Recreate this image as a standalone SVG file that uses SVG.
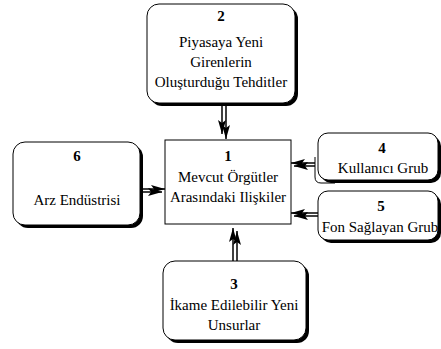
<svg xmlns="http://www.w3.org/2000/svg" width="441" height="349" viewBox="0 0 441 349">
<style>
.box{fill:#fff;stroke:#000;stroke-width:1}
.sh{fill:#000;stroke:none}
text{font-family:"Liberation Serif","DejaVu Serif",serif;font-size:15px;fill:#000;text-anchor:middle}
.n{font-weight:bold}
.c{stroke:#000;stroke-width:1.5;fill:none;marker-end:url(#ah)}
</style>
<defs>
<marker id="ah" markerUnits="userSpaceOnUse" markerWidth="15" markerHeight="8" refX="14" refY="4" orient="auto">
<path d="M0,0 L14,4 L0,8 L3,4 z" fill="#000"/>
</marker>
</defs>
<rect width="441" height="349" fill="#fff"/>
<g id="connectors">
<line class="c" x1="222" y1="106" x2="222" y2="134"/>
<line class="c" x1="226" y1="106" x2="226" y2="139"/>
<line class="c" x1="233" y1="261" x2="233" y2="228"/>
<line class="c" x1="237" y1="261" x2="237" y2="231"/>
<line class="c" x1="143" y1="189" x2="165" y2="189"/>
<line class="c" x1="143" y1="192" x2="162" y2="192"/>
<line class="c" x1="315" y1="163" x2="291" y2="163"/>
<line class="c" x1="315" y1="166" x2="294" y2="166"/>
<line class="c" x1="318" y1="213" x2="291" y2="213"/>
<line class="c" x1="318" y1="216" x2="294" y2="216"/>
</g>
<g id="node2">
<rect class="sh" x="150" y="7" width="148" height="99" rx="12"/>
<rect class="box" x="147" y="4" width="148" height="99" rx="12"/>
<text class="n" x="221" y="21">2</text>
<text x="221" y="47">Piyasaya Yeni</text>
<text x="221" y="67">Girenlerin</text>
<text x="221" y="87">Oluşturduğu Tehditler</text>
</g>
<g id="node1">
<rect class="box" x="165" y="140" width="126" height="84"/>
<text class="n" x="228" y="161">1</text>
<text x="228" y="182">Mevcut Örgütler</text>
<text x="228" y="202">Arasındaki Ilişkiler</text>
</g>
<g id="node6">
<rect class="sh" x="16" y="145" width="127" height="83" rx="12"/>
<rect class="box" x="13" y="142" width="127" height="83" rx="12"/>
<text class="n" x="77" y="161">6</text>
<text x="77" y="205">Arz Endüstrisi</text>
</g>
<g id="node4">
<path d="M315,157 V177 Q315,183 321,183 H335" fill="none" stroke="#000" stroke-width="1"/>
<rect class="sh" x="321" y="136" width="120" height="47" rx="10"/>
<rect class="box" x="318" y="133" width="120" height="47" rx="10"/>
<text class="n" x="382" y="153">4</text>
<text x="383" y="173">Kullanıcı Grub</text>
</g>
<g id="node5">
<rect class="sh" x="321" y="194" width="120" height="49" rx="10"/>
<rect class="box" x="318" y="191" width="120" height="49" rx="10"/>
<text class="n" x="381" y="211">5</text>
<text x="380" y="232">Fon Sağlayan Grub</text>
</g>
<g id="node3">
<rect class="sh" x="166" y="264" width="143" height="79" rx="12"/>
<rect class="box" x="163" y="261" width="143" height="79" rx="12"/>
<text class="n" x="234" y="289">3</text>
<text x="234" y="310">İkame Edilebilir Yeni</text>
<text x="234" y="330">Unsurlar</text>
</g>
</svg>
